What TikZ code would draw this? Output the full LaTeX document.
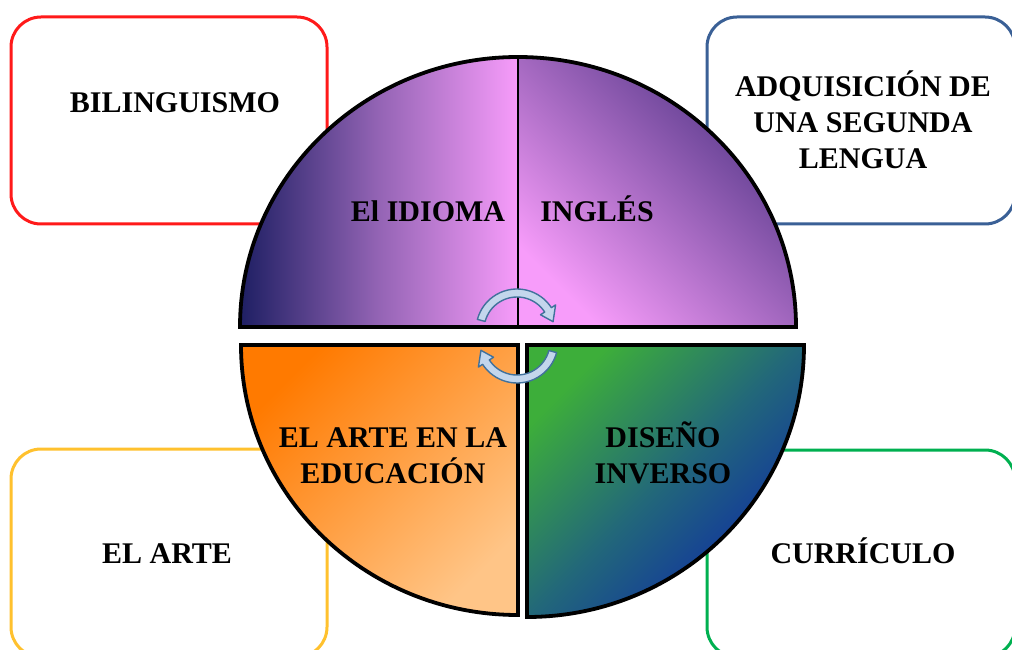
\documentclass[tikz,border=0pt]{standalone}
\usepackage{fontspec}
\setmainfont{Liberation Serif}
\definecolor{boxred}{HTML}{FF1A1A}
\definecolor{boxblue}{HTML}{3A6096}
\definecolor{boxyellow}{HTML}{FFC12E}
\definecolor{boxgreen}{HTML}{00B050}
\definecolor{navyA}{HTML}{1E1F63}
\definecolor{midA}{HTML}{9464B5}
\definecolor{pinkA}{HTML}{F79CFA}
\definecolor{purpleB}{HTML}{4E3384}
\definecolor{orangeA}{HTML}{FF7A00}
\definecolor{orangeB}{HTML}{FFC587}
\definecolor{greenA}{HTML}{3DAE3A}
\definecolor{tealA}{HTML}{22677A}
\definecolor{blueA}{HTML}{0E2AA6}
\definecolor{arrowfill}{HTML}{C3D6EC}
\definecolor{arrowline}{HTML}{41719C}
\begin{document}
\begin{tikzpicture}[x=1pt,y=1pt,
  framebox/.style={line width=3pt, rounded corners=30pt},
  lbl/.style={font=\fontsize{30}{36}\selectfont\bfseries, anchor=base, align=center, inner sep=0pt},
  rim/.style={draw=black, line width=3.8pt},
  turn/.style={fill=arrowfill, draw=arrowline, line width=1.4pt, line join=round}]
\useasboundingbox (0,0) rectangle (1012,649);
\clip (0,0) rectangle (1012,649);
\fill[white] (0,0) rectangle (1012,649);

% corner boxes
\draw[framebox, draw=boxred] (11,425) rectangle (327,632);
\draw[framebox, draw=boxblue] (707,425) rectangle (1015,632);
\draw[framebox, draw=boxyellow] (11,-8) rectangle (327,200);
\draw[framebox, draw=boxgreen] (707,-8) rectangle (1015,199);

\node[lbl] (bil) at (175,536) {BILINGUISMO};
\node[lbl] (adq) at (863,480) {ADQUISICIÓN DE\\UNA SEGUNDA\\LENGUA};
\node[lbl] (arte) at (167,86) {EL ARTE};
\node[lbl] (cur) at (863,86) {CURRÍCULO};

% upper half
\shade[left color=navyA, right color=pinkA, middle color=midA]
  (518,322) -- (240,322) arc[start angle=180, end angle=90, x radius=278, y radius=270] -- cycle;
\shade[top color=purpleB, bottom color=pinkA, shading angle=-45]
  (518,322) -- (518,592) arc[start angle=90, end angle=0, x radius=278, y radius=270] -- cycle;
\draw[rim] (240,322) arc[start angle=180, end angle=0, x radius=278, y radius=270] -- cycle;
\draw[line width=2.6pt] (518,322) -- (518,592);

% lower half
\shadedraw[rim, top color=orangeA, bottom color=orangeB, shading angle=45]
  (241,304) -- (518,304) -- (518,34) arc[start angle=270, end angle=180, x radius=277, y radius=270] -- cycle;
\shadedraw[rim, top color=greenA, bottom color=blueA, middle color=tealA, shading angle=45]
  (527,304) -- (804,304) arc[start angle=0, end angle=-90, x radius=277, y radius=272] -- cycle;

\node[lbl] (idioma) at (428,427) {El IDIOMA};
\node[lbl] (ingles) at (597,427) {INGLÉS};
\node[lbl] (educ) at (393,166) {EL ARTE EN LA\\EDUCACIÓN};
\node[lbl] (dis) at (663,166) {DISEÑO\\INVERSO};

% curved arrows
\coordinate (cu) at (517,319);
\coordinate (cl) at (517,307);
\filldraw[turn] ([shift={(cu)}]165:41) arc[start angle=165, end angle=33, radius=41]
  -- ([shift={(cu)}]33:46) -- ([shift={(cu)}]13:37) -- ([shift={(cu)}]33:28)
  -- ([shift={(cu)}]33:33) arc[start angle=33, end angle=165, radius=33] -- cycle;
\filldraw[turn] ([shift={(cl)}]-15:41) arc[start angle=-15, end angle=-147, radius=41]
  -- ([shift={(cl)}]-147:46) -- ([shift={(cl)}]-167:37) -- ([shift={(cl)}]-147:28)
  -- ([shift={(cl)}]-147:33) arc[start angle=-147, end angle=-15, radius=33] -- cycle;
\end{tikzpicture}
\end{document}
